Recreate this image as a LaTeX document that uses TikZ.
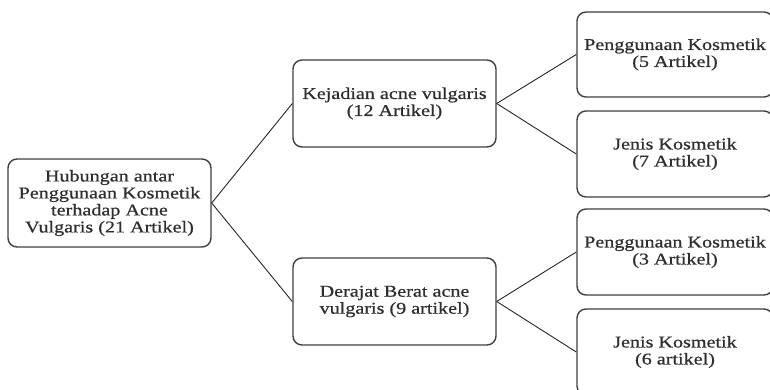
\documentclass[tikz,border=0pt]{standalone}
\usepackage{fontspec}
\setmainfont{Liberation Serif}[FakeStretch=1.22,FakeBold=0.6]
\begin{document}
\begin{tikzpicture}[x=1pt,y=1pt,
  box/.style={draw=black!75, line width=1.4pt, rounded corners=9pt, fill=white,
    align=center, inner sep=0pt, text=black!82,
    font=\fontsize{16.5}{17}\selectfont},
  link/.style={draw=black!85, line width=0.9pt}]
\useasboundingbox (0,0) rectangle (770,389);
\begin{scope}
\clip (0,0) rectangle (770,389);
\node[box, minimum width=203pt, minimum height=88pt] (root) at (109.5,186) {Hubungan antar\\Penggunaan Kosmetik\\terhadap Acne\\Vulgaris (21 Artikel)};
\node[box, minimum width=203pt, minimum height=87pt] (m1) at (394.5,285.5) {Kejadian acne vulgaris\\(12 Artikel)};
\node[box, minimum width=203pt, minimum height=87pt] (m2) at (394.5,87.5) {Derajat Berat acne\\vulgaris (9 artikel)};
\node[box, minimum width=196pt, minimum height=85pt] (r1) at (675,334.5) {Penggunaan Kosmetik\\(5 Artikel)};
\node[box, minimum width=196pt, minimum height=86pt] (r2) at (675,235) {Jenis Kosmetik\\(7 Artikel)};
\node[box, minimum width=196pt, minimum height=86pt] (r3) at (675,137) {Penggunaan Kosmetik\\(3 Artikel)};
\node[box, minimum width=196pt, minimum height=86pt] (r4) at (675,37) {Jenis Kosmetik\\(6 artikel)};
\draw[link] (root.east) -- (m1.west);
\draw[link] (root.east) -- (m2.west);
\draw[link] (m1.east) -- (r1.west);
\draw[link] (m1.east) -- (r2.west);
\draw[link] (m2.east) -- (r3.west);
\draw[link] (m2.east) -- (r4.west);
\end{scope}
\end{tikzpicture}
\end{document}
